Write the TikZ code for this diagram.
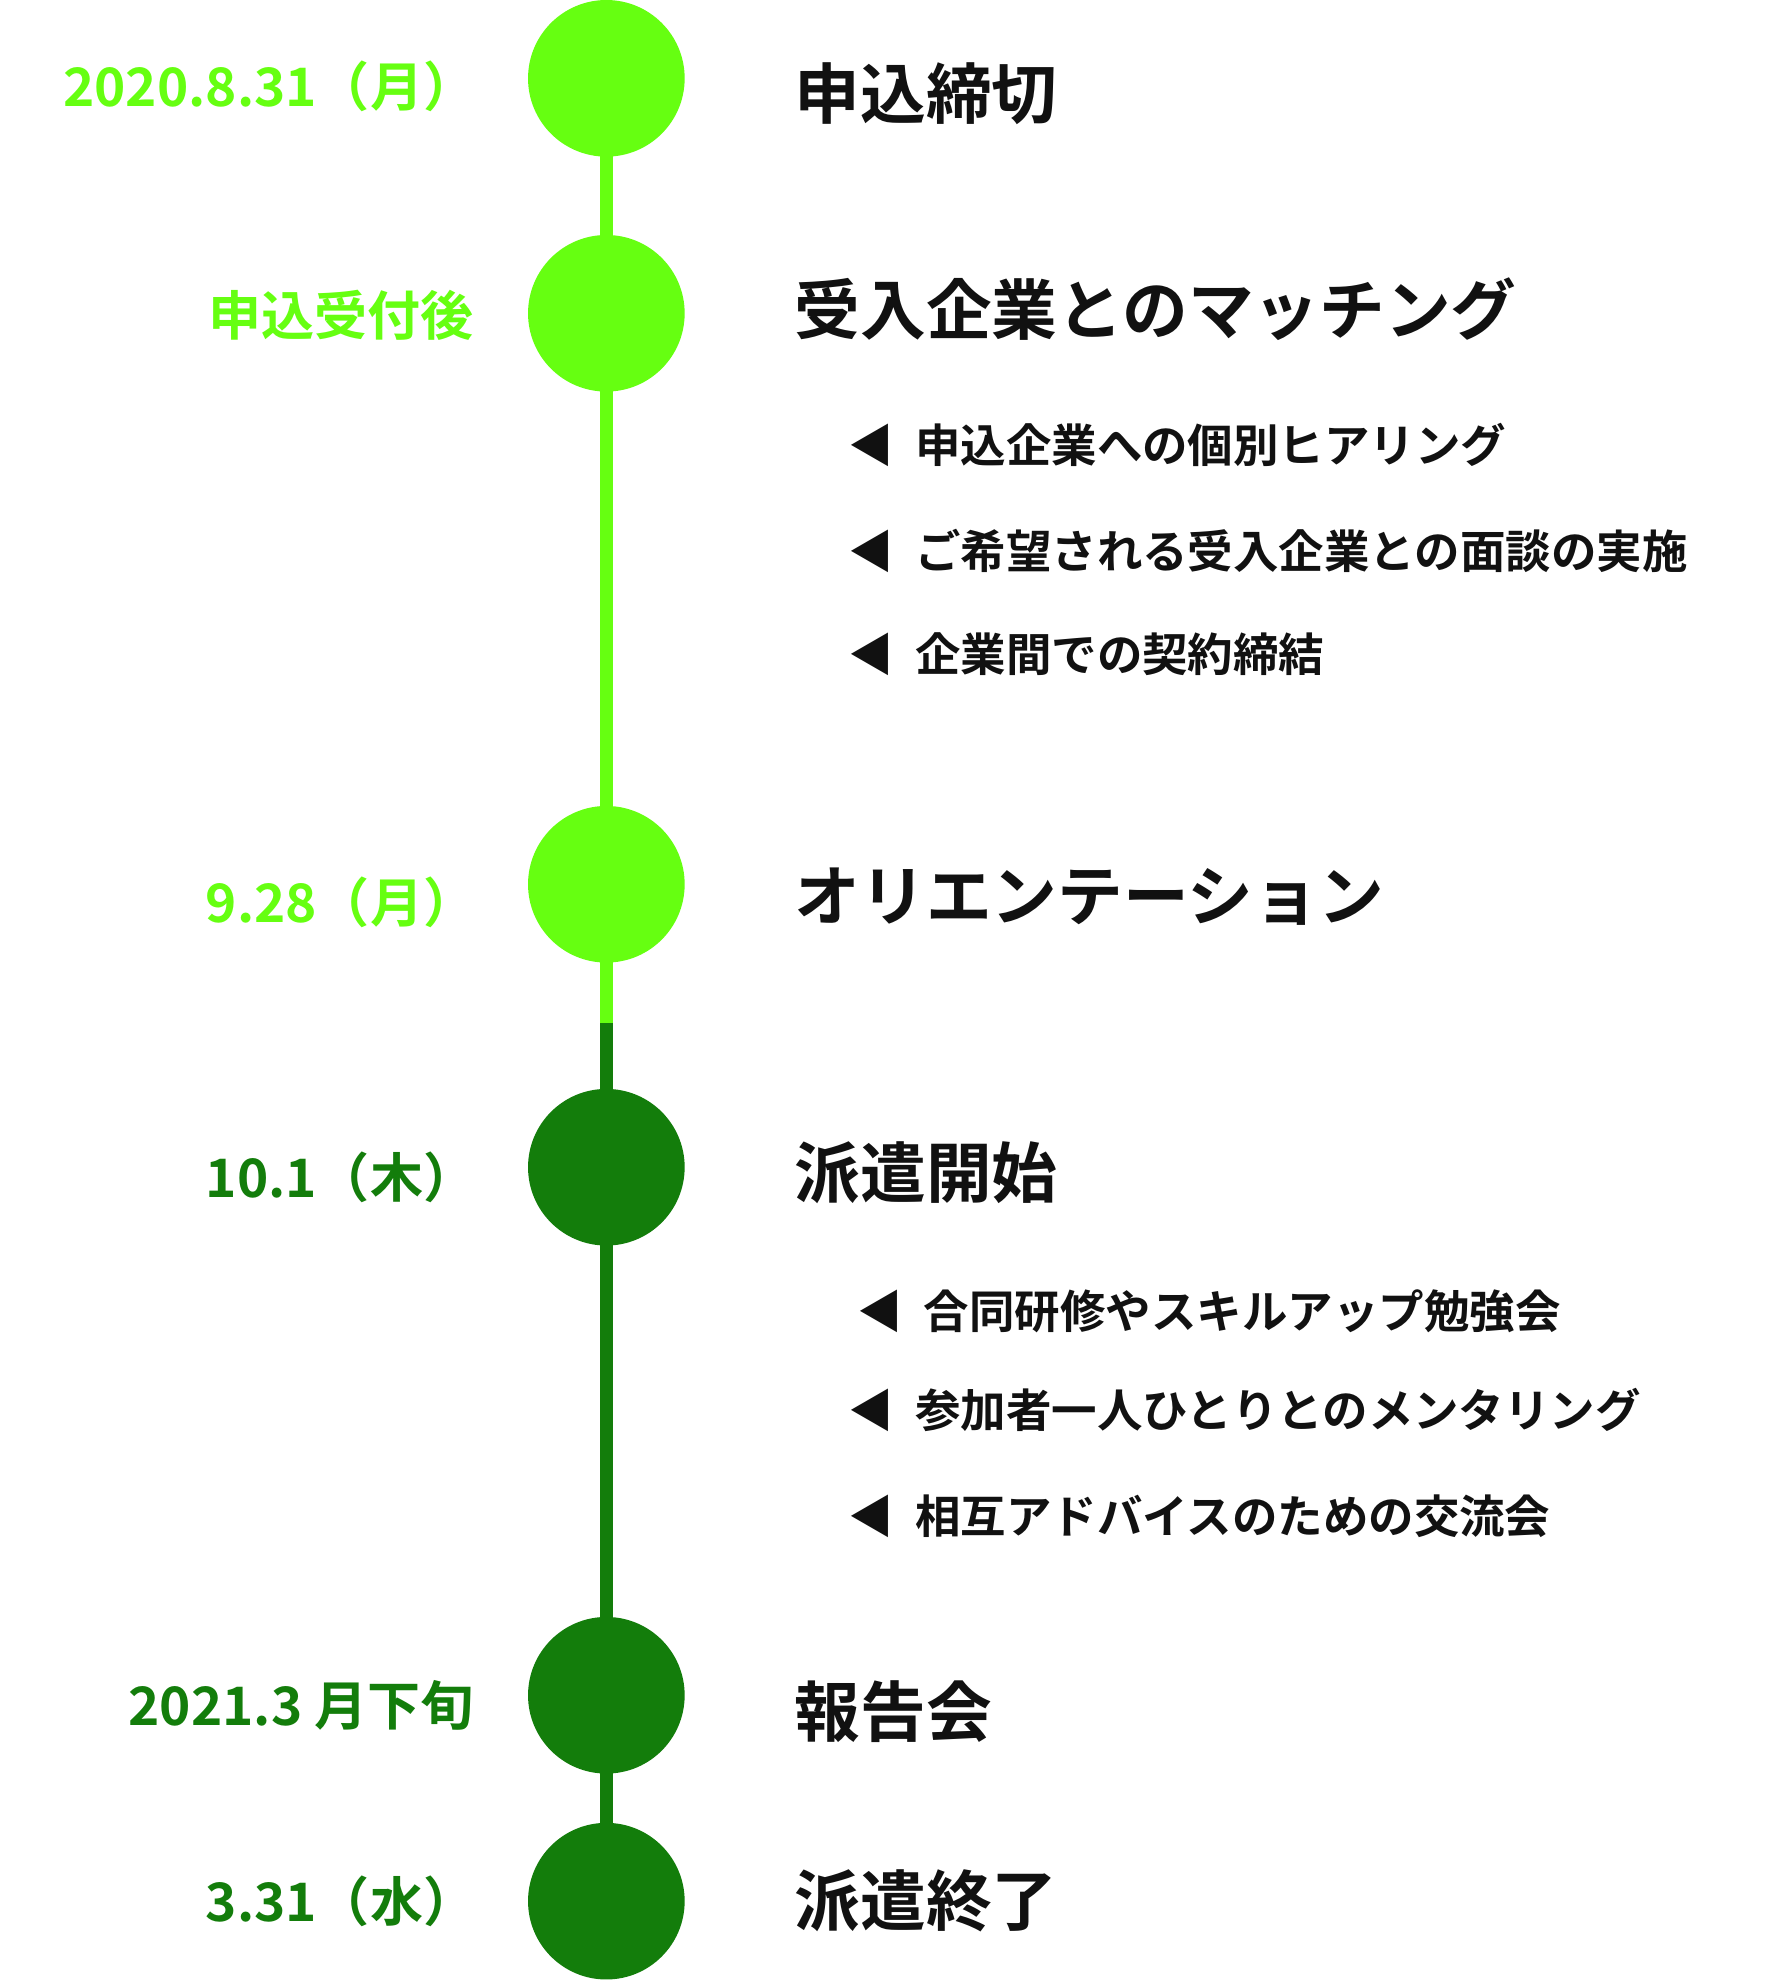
\documentclass[tikz,border=0pt]{standalone}
\usepackage{fontspec}
\setmainfont{Noto Sans CJK JP}[BoldFont={Noto Sans CJK JP Bold}]
\definecolor{lg}{HTML}{66FF11}
\definecolor{dg}{HTML}{137D0B}
\definecolor{tx}{HTML}{111111}
\begin{document}
\begin{tikzpicture}[x=0.5pt,y=-0.5pt,
  dot/.style={circle,minimum size=62pt,inner sep=0pt},
  date/.style={anchor=east,font=\bfseries\fontsize{21}{24}\selectfont},
  head/.style={anchor=west,text=tx,font=\bfseries\fontsize{26}{30}\selectfont},
  item/.style={anchor=west,text=tx,font=\bfseries\fontsize{18}{22}\selectfont}]
\useasboundingbox (0,0) rectangle (1416,1569);
\draw[lg,line width=5pt] (480,62) -- (480,810);
\draw[dg,line width=5pt] (480,810) -- (480,1505);
\node[dot,fill=lg] (c1) at (480,62) {};
\node[dot,fill=lg] (c2) at (480,248) {};
\node[dot,fill=lg] (c3) at (480,700) {};
\node[dot,fill=dg] (c4) at (480,924) {};
\node[dot,fill=dg] (c5) at (480,1342) {};
\node[dot,fill=dg] (c6) at (480,1505) {};
\node[date,text=lg] (d1) at (384,68) {2020.8.31（月）};
\node[date,text=lg] (d2) at (382,250) {申込受付後};
\node[date,text=lg] (d3) at (384,714) {9.28（月）};
\node[date,text=dg] (d4) at (384,932) {10.1（木）};
\node[date,text=dg] (d5) at (382,1350) {2021.3 月下旬};
\node[date,text=dg] (d6) at (384,1505) {3.31（水）};
\node[head] (h1) at (622,74) {申込締切};
\node[head] (h2) at (622,245) {受入企業とのマッチング};
\node[head] (h3) at (622,710) {オリエンテーション};
\node[head] (h4) at (622,928) {派遣開始};
\node[head] (h5) at (622,1355) {報告会};
\node[head] (h6) at (622,1505) {派遣終了};
\node[item] (i1) at (665,352) {◀\ \ 申込企業への個別ヒアリング};
\node[item] (i2) at (665,436) {◀\ \ ご希望される受入企業との面談の実施};
\node[item] (i3) at (665,518) {◀\ \ 企業間での契約締結};
\node[item] (i4) at (672,1038) {◀\ \ 合同研修やスキルアップ勉強会};
\node[item] (i5) at (665,1116) {◀\ \ 参加者一人ひとりとのメンタリング};
\node[item] (i6) at (665,1200) {◀\ \ 相互アドバイスのための交流会};
\end{tikzpicture}
\end{document}
